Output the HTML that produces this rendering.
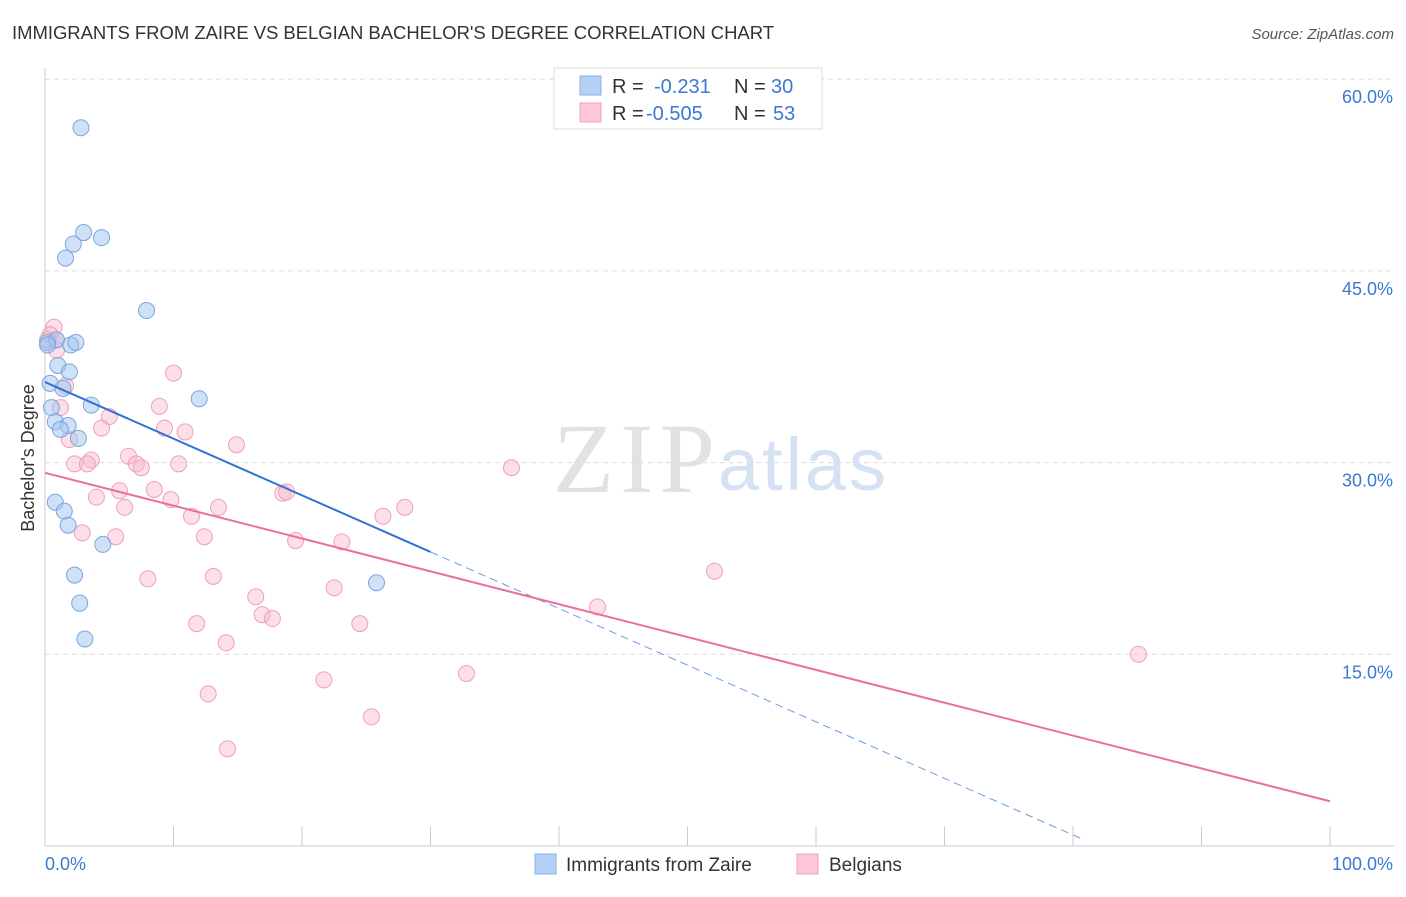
<!DOCTYPE html>
<html><head><meta charset="utf-8"><style>
body{margin:0;background:#fff;font-family:"Liberation Sans",sans-serif;}
svg text{font-family:"Liberation Sans",sans-serif;}
</style></head><body>
<svg id="c" width="1406" height="892" viewBox="0 0 1406 892" xmlns="http://www.w3.org/2000/svg">
<text x="12" y="39" font-size="18.5" fill="#333" textLength="762">IMMIGRANTS FROM ZAIRE VS BELGIAN BACHELOR'S DEGREE CORRELATION CHART</text>
<text x="1394" y="39" font-size="15" fill="#555" text-anchor="end" font-style="italic">Source: ZipAtlas.com</text>
<text x="553" y="492" font-size="100" fill="#e2e2e2" style="font-family:'Liberation Serif',serif" textLength="162">ZIP</text>
<text x="718" y="490" font-size="74" fill="#d4e2f4" textLength="168">atlas</text>
<text transform="translate(34,458) rotate(-90)" font-size="18" fill="#333" text-anchor="middle">Bachelor's Degree</text>
<g id="grid"></g><g id="pts"></g>
<g>
<rect x="554" y="68" width="268" height="61" fill="#fff" stroke="#ddd"/>
<rect x="580" y="76" width="21" height="19" fill="#b5d0f4" stroke="#88b0e6"/>
<rect x="580" y="103" width="21" height="19" fill="#fcc8d7" stroke="#f0a0b8"/>
<text x="612" y="93" font-size="20" fill="#333">R =</text><text x="654" y="93" font-size="20" fill="#3a78d4">-0.231</text>
<text x="734" y="93" font-size="20" fill="#333">N =</text><text x="771" y="93" font-size="20" fill="#3a78d4">30</text>
<text x="612" y="120" font-size="20" fill="#333">R =</text><text x="646" y="120" font-size="20" fill="#3a78d4">-0.505</text>
<text x="734" y="120" font-size="20" fill="#333">N =</text><text x="773" y="120" font-size="20" fill="#3a78d4">53</text>
</g>
<g>
<rect x="535" y="854" width="21" height="20" fill="#b5d0f4" stroke="#88b0e6"/>
<text x="566" y="871" font-size="19" fill="#333">Immigrants from Zaire</text>
<rect x="797" y="854" width="21" height="20" fill="#fcc8d7" stroke="#f0a0b8"/>
<text x="829" y="871" font-size="19" fill="#333">Belgians</text>
</g>
</svg>
<script>
const yTicks=[15,30,45,60];
const xTickLabels=["0.0%","100.0%"];
const zaireX=[2.8,3.0,2.2,4.4,1.6,7.9,0.2,0.9,2.0,2.4,1.0,1.9,0.4,1.4,3.6,12.0,0.5,0.8,1.8,1.2,2.6,0.8,1.5,1.8,4.5,2.3,2.7,3.1,25.8,0.2];
const zaireY=[56.2,48.0,47.1,47.6,46.0,41.9,39.4,39.6,39.2,39.4,37.6,37.1,36.2,35.8,34.5,35.0,34.3,33.2,32.9,32.6,31.9,26.9,26.2,25.1,23.6,21.2,19.0,16.2,20.6,39.2];
const belX=[0.7,0.4,0.9,0.2,0.9,1.6,1.2,5.0,8.9,10.0,1.9,4.4,9.3,10.9,14.9,2.3,3.6,3.3,6.5,7.1,7.5,10.4,5.8,4.0,8.5,9.8,6.2,13.5,11.4,18.5,18.8,28.0,26.3,2.9,5.5,12.4,19.5,23.1,8.0,13.1,22.5,16.4,16.9,17.7,11.8,24.5,14.1,43.0,52.1,36.3,85.1,32.8,21.7,12.7,25.4,14.2];
const belY=[40.6,40.0,39.6,39.6,38.8,36.0,34.3,33.6,34.4,37.0,31.8,32.7,32.7,32.4,31.4,29.9,30.2,29.9,30.5,29.9,29.6,29.9,27.8,27.3,27.9,27.1,26.5,26.5,25.8,27.6,27.7,26.5,25.8,24.5,24.2,24.2,23.9,23.8,20.9,21.1,20.2,19.5,18.1,17.8,17.4,17.4,15.9,18.7,21.5,29.6,15.0,13.5,13.0,11.9,10.1,7.6];
const zTrend=[36.3,-0.443];
const bTrend=[29.2,-0.257];
const NS="http://www.w3.org/2000/svg";
const X=v=>45+v*12.85, Y=v=>846-v*12.78;
function mk(t,a,p){const e=document.createElementNS(NS,t);for(const k in a)e.setAttribute(k,a[k]);p.appendChild(e);return e;}
const g=document.getElementById('grid'),pg=document.getElementById('pts');
yTicks.forEach(t=>{
 const l=mk('line',{x1:45,x2:1394,y1:Y(t),y2:Y(t),stroke:'#ddd','stroke-dasharray':'5,4'},g);
 
 
 const tx=mk('text',{x:1393,y:Y(t)+24,'font-size':18,fill:'#3a78d4','text-anchor':'end'},g);tx.textContent=t.toFixed(1)+'%';
 
 
});
mk('line',{x1:45,x2:45,y1:68,y2:846,stroke:'#ccc'},g);
mk('line',{x1:45,x2:1394,y1:846,y2:846,stroke:'#ccc'},g);
for(let i=1;i<=10;i++){const l=mk('line',{x1:X(i*10),x2:X(i*10),y1:826,y2:846,stroke:'#ccc'},g);
 
 }
xTickLabels.forEach((s,i)=>{const t=mk('text',{x:i?1393:45,y:870,'font-size':18,fill:'#3a78d4','text-anchor':i?'end':'start'},g);t.textContent=s;
 
 });
belX.forEach((x,i)=>{const c=mk('circle',{cx:X(x),cy:Y(belY[i]),r:8,fill:'rgba(249,184,204,0.45)',stroke:'#f0a0b8','stroke-width':1},pg);
 
 });
zaireX.forEach((x,i)=>{const c=mk('circle',{cx:X(x),cy:Y(zaireY[i]),r:8,fill:'rgba(160,195,240,0.5)',stroke:'#7aa6e0','stroke-width':1},pg);
 
 });
const zl=mk('line',{x1:X(0),y1:Y(zTrend[0]),x2:X(30),y2:Y(zTrend[0]+zTrend[1]*30),stroke:'#2f73d6','stroke-width':2},pg);


const zd=mk('line',{x1:X(30),y1:Y(zTrend[0]+zTrend[1]*30),x2:X(80.7),y2:Y(zTrend[0]+zTrend[1]*80.7),stroke:'#6a9ee0','stroke-width':1,'stroke-dasharray':'8,5'},pg);


const bl=mk('line',{x1:X(0),y1:Y(bTrend[0]),x2:X(100),y2:Y(bTrend[0]+bTrend[1]*100),stroke:'#e8709a','stroke-width':2},pg);


</script>
</body></html>
